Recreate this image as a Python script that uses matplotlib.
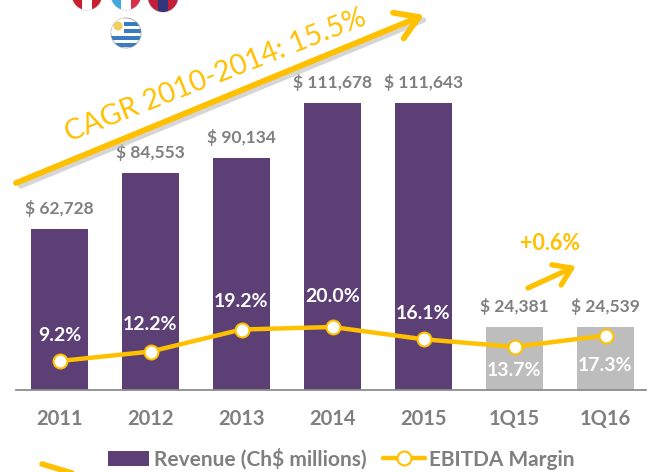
# Revenue and EBITDA margin chart
import matplotlib
matplotlib.use("Agg")
import matplotlib.pyplot as plt
from matplotlib.patches import Circle, FancyArrowPatch, Rectangle

periods = ["2011", "2012", "2013", "2014", "2015", "1Q15", "1Q16"]
revenue = [62728, 84553, 90134, 111678, 111643, 24381, 24539]
margin = [9.2, 12.2, 19.2, 20.0, 16.1, 13.7, 17.3]
revenue_labels = ["$ 62,728", "$ 84,553", "$ 90,134", "$ 111,678", "$ 111,643", "$ 24,381", "$ 24,539"]

purple = "#5B3F75"
light = "#BDBDBD"
yellow = "#FFC000"
grey = "#7F7F7F"
plt.rcParams["font.family"] = ["Lato", "DejaVu Sans"]

fig = plt.figure(figsize=(6.53, 4.72), dpi=100)
ax = fig.add_axes([0, 82 / 472, 1, 390 / 472])
x = list(range(len(periods)))
colors = [purple] * 5 + [light] * 2
bars = ax.bar(x, revenue, width=0.62, color=colors)
ax.set_xlim(-59.5 / 91, (653 - 59.5) / 91)
ax.set_ylim(0, 390 / 0.00257)
ax.set_xticks(x, periods, fontsize=14.5, fontweight="bold", color=grey)
ax.tick_params(axis="x", length=0, pad=14)
ax.set_yticks([])
for s in ["top", "left", "right"]:
    ax.spines[s].set_visible(False)
ax.spines["bottom"].set_bounds(-59.5 / 91 + 0.18, 6.44)
ax.spines["bottom"].set_color("#8C8C8C")
ax.spines["bottom"].set_linewidth(1.3)

for i, v in enumerate(revenue):
    ax.annotate(revenue_labels[i], (i, v), xytext=(0, 12), textcoords="offset pixels",
                ha="center", va="bottom", fontsize=12.5, fontweight="bold", color=grey)

# margen en eje secundario
ax2 = ax.twinx()
ax2.set_ylim(0, 390 / 3.15)
ax2.axis("off")
line, = ax2.plot(x, margin, color=yellow, lw=3.2, marker="o", ms=10, mfc="white",
                 mec=yellow, mew=1.5, solid_capstyle="round")
offsets = [26, 27, 28, 30, 26, -24, -30]
for i, v in enumerate(margin):
    ax2.annotate(f"{v:.1f}%", (i, v), xytext=(0, offsets[i]), textcoords="offset pixels",
                 ha="center", va="center", fontsize=14, fontweight="bold", color="white")

fig.legend(handles=[bars[0], line], labels=["Revenue (Ch$ millions)", "EBITDA Margin"],
           loc="center", bbox_to_anchor=(341 / 653, 1 - 459 / 472), ncol=2, frameon=False,
           labelcolor=grey, prop={"weight": "bold", "size": 15},
           handlelength=2.0, handletextpad=0.2, columnspacing=0.8, borderpad=0)

# capa de anotaciones en pixeles
over = fig.add_axes([0, 0, 1, 1])
over.set_xlim(0, 653)
over.set_ylim(472, 0)
over.axis("off")
over.patch.set_alpha(0)

over.add_patch(FancyArrowPatch((18, 187), (426, 19), arrowstyle="-", lw=4, color="#BBBBBB", alpha=0.6, zorder=1))
over.add_patch(FancyArrowPatch((16, 183), (424, 15), arrowstyle="->,head_length=16,head_width=10",
                               lw=4.2, color=yellow, mutation_scale=1, shrinkA=0, shrinkB=0, zorder=2))
over.text(216, 76, "CAGR 2010-2014: 15.5%", rotation=21.5, rotation_mode="anchor", ha="center", va="center",
          fontsize=20.5, color=yellow)
over.add_patch(FancyArrowPatch((528, 288), (576, 266), arrowstyle="->,head_length=12,head_width=8",
                               lw=3.8, color=yellow, mutation_scale=1, shrinkA=0, shrinkB=0))
over.text(550, 244, "+0.6%", ha="center", va="center", fontsize=15.5, fontweight="bold", color=yellow)
over.add_patch(FancyArrowPatch((42, 464), (72, 473), arrowstyle="-", lw=4, color=yellow, shrinkA=0, shrinkB=0))

# banderas
flag_c = [(87, -5), (126, -5), (163, -3)]
flag_col = [["#C8202F", "white", "#C8202F"], ["#3FA9E0", "white", "#D9304A"], ["#C0203A", "#34347A", "#C0203A"]]
for (cx, cy), cols in zip(flag_c, flag_col):
    circ = Circle((cx, cy), 15, fc="white", ec="#CCCCCC", lw=0.8)
    over.add_patch(circ)
    for k, c in enumerate(cols):
        r = Rectangle((cx - 15 + k * 10, cy - 15), 10, 30, fc=c, ec="none")
        over.add_patch(r)
        r.set_clip_path(circ)
u = Circle((126, 33), 15, fc="white", ec="#BBBBBB", lw=0.8)
over.add_patch(u)
for yy in [22, 29, 36, 43]:
    r = Rectangle((111, yy), 30, 3.5, fc="#3A7DBE", ec="none")
    over.add_patch(r)
    r.set_clip_path(u)
s = Rectangle((111, 18), 13, 15, fc="white", ec="none")
over.add_patch(s)
s.set_clip_path(u)
over.add_patch(Circle((118, 26), 4.5, fc="#F0CE60", ec="none"))

fig.savefig("out.png", dpi=100)
